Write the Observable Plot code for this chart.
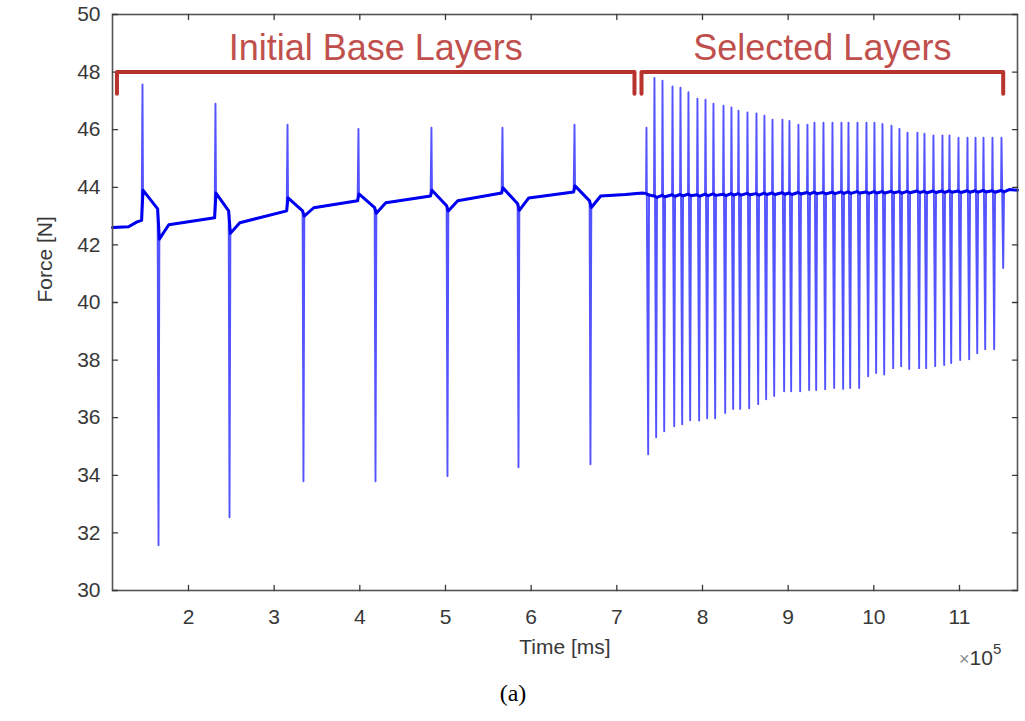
<!DOCTYPE html>
<html><head><meta charset="utf-8">
<script src="https://cdn.jsdelivr.net/npm/d3@7"></script>
<script src="https://cdn.jsdelivr.net/npm/@observablehq/plot@0.6"></script>
<style>body{margin:0;background:#fff;} #chart svg{display:block;}</style>
</head><body><div id="chart"></div>
<script>
// ---- axis ticks (Time in units of 1e5 ms, Force in N)
const xTicks = [2, 3, 4, 5, 6, 7, 8, 9, 10, 11];
const yTicks = [30, 32, 34, 36, 38, 40, 42, 44, 46, 48, 50];
const xDomain = [1.113, 11.677];
const yDomain = [30, 50];

// ---- leading segment before the first layer
const leadT = [1.113, 1.30, 1.40];
const leadF = [42.60, 42.63, 42.80];

// ---- initial base layers (up spike, then down spike)
const initUpT      = [1.463, 2.315, 3.156, 3.984, 4.836, 5.665, 6.506];
const initPeak     = [47.57, 46.90, 46.17, 46.03, 46.07, 46.07, 46.17];
const initDownT    = [1.650, 2.479, 3.342, 4.183, 5.023, 5.852, 6.692];
const initTrough   = [31.57, 32.54, 33.79, 33.79, 33.97, 34.28, 34.38];
const initPreUp    = [42.85, 42.94, 43.18, 43.53, 43.70, 43.80, 43.84];
const initPostUp   = [43.90, 43.80, 43.63, 43.77, 43.90, 43.98, 44.05];
const initPreDown  = [43.25, 43.18, 43.18, 43.29, 43.36, 43.43, 43.53];
const initPostDown = [42.20, 42.40, 43.00, 43.10, 43.18, 43.20, 43.30];
const initRecover  = [42.70, 42.77, 43.29, 43.46, 43.53, 43.63, 43.70];

// ---- gap between initial and selected layers
const gapT = [7.10, 7.30];
const gapF = [43.75, 43.80];

// ---- selected layers
const selT = [7.346, 7.439, 7.533, 7.650, 7.743, 7.836, 7.941, 8.035, 8.128, 8.245,
  8.338, 8.420, 8.525, 8.630, 8.723, 8.817, 8.933, 9.015, 9.120, 9.225,
  9.307, 9.412, 9.517, 9.622, 9.704, 9.809, 9.914, 10.007, 10.101, 10.206,
  10.299, 10.393, 10.509, 10.591, 10.696, 10.801, 10.883, 10.988, 11.093, 11.187,
  11.280, 11.385, 11.490];
const selPeak = [46.07, 47.80, 47.70, 47.50, 47.46, 47.30, 47.08, 47.04, 46.90, 46.83,
  46.77, 46.66, 46.60, 46.56, 46.49, 46.35, 46.35, 46.30, 46.17, 46.17,
  46.24, 46.24, 46.24, 46.24, 46.24, 46.24, 46.24, 46.24, 46.20, 46.14,
  46.03, 45.90, 45.90, 45.86, 45.80, 45.80, 45.80, 45.72, 45.72, 45.72,
  45.72, 45.72, 45.72];
const selTrough = [34.73, 35.32, 35.53, 35.70, 35.77, 35.91, 35.90, 35.98, 35.98, 36.16,
  36.30, 36.30, 36.33, 36.47, 36.64, 36.75, 36.92, 36.92, 36.92, 36.96,
  36.96, 36.99, 37.03, 37.00, 37.03, 37.03, 37.44, 37.55, 37.50, 37.72,
  37.79, 37.69, 37.72, 37.72, 37.79, 37.83, 37.90, 38.00, 38.03, 38.24,
  38.38, 38.38, 41.20];
const selBase = [43.78, 43.70, 43.72, 43.74, 43.75, 43.76, 43.74, 43.76, 43.77, 43.76,
  43.78, 43.78, 43.79, 43.78, 43.80, 43.80, 43.81, 43.80, 43.82, 43.82,
  43.83, 43.82, 43.83, 43.84, 43.84, 43.85, 43.84, 43.85, 43.85, 43.86,
  43.85, 43.86, 43.87, 43.86, 43.87, 43.87, 43.88, 43.87, 43.88, 43.88,
  43.89, 43.88, 43.89];
const tailT = [11.58, 11.677];
const tailF = [43.92, 43.90];

// ---- brackets & labels
const bracketNames = ["Initial Base Layers", "Selected Layers"];
const bracketStart = [1.165, 7.288];
const bracketEnd   = [7.206, 11.510];
const bracketTop = 48.0;
const bracketFoot = 47.25;
const bracketLabelY = 48.82;

// ---- build table
const series = [];
leadT.forEach((t, i) => series.push({t, f: leadF[i], spike: false}));
initUpT.forEach((t, i) => {
  series.push({t: t - 0.01, f: initPreUp[i], spike: false});
  series.push({t: t, f: initPeak[i], spike: true});
  series.push({t: t + 0.006, f: initPostUp[i], spike: false});
  series.push({t: initDownT[i] - 0.01, f: initPreDown[i], spike: false});
  series.push({t: initDownT[i], f: initTrough[i], spike: true});
  series.push({t: initDownT[i] + 0.01, f: initPostDown[i], spike: false});
  series.push({t: initDownT[i] + 0.12, f: initRecover[i], spike: false});
});
gapT.forEach((t, i) => series.push({t, f: gapF[i], spike: false}));
selT.forEach((t, i) => {
  series.push({t: t - 0.005, f: selBase[i], spike: false});
  series.push({t: t, f: selPeak[i], spike: true});
  series.push({t: t + 0.02, f: selTrough[i], spike: true});
  series.push({t: t + 0.03, f: selBase[i] - 0.05, spike: false});
});
tailT.forEach((t, i) => series.push({t, f: tailF[i], spike: false}));

const bracketData = [];
bracketNames.forEach((name, i) => {
  bracketData.push({id: name, t: bracketStart[i], f: bracketFoot});
  bracketData.push({id: name, t: bracketStart[i], f: bracketTop});
  bracketData.push({id: name, t: bracketEnd[i], f: bracketTop});
  bracketData.push({id: name, t: bracketEnd[i], f: bracketFoot});
});
const bracketLabels = bracketNames.map((name, i) => ({name, t: (bracketStart[i] + bracketEnd[i]) / 2}));

const tickShape = {draw(context, l) { context.moveTo(0, 0); context.lineTo(0, -l); }};
const axisColor = "#383838";
const tickOpts = {shape: tickShape, length: 5, anchor: "start", stroke: axisColor, strokeWidth: 1.3};

const plot = Plot.plot({
  width: 1025,
  height: 721,
  marginLeft: 112,
  marginRight: 8,
  marginTop: 14,
  marginBottom: 131,
  style: {fontFamily: "'Liberation Sans', Arial, sans-serif", background: "#fff"},
  x: {domain: xDomain, axis: null},
  y: {domain: yDomain, axis: null},
  marks: [
    Plot.line(series, {x: "t", y: "f", stroke: "#3535ff", strokeWidth: 1.9, strokeOpacity: 0.85}),
    Plot.line(series.filter(d => !d.spike), {x: "t", y: "f", stroke: "#0000f0", strokeWidth: 3}),
    Plot.frame({stroke: "#555", strokeWidth: 1.6}),
    Plot.vector(xTicks, {x: d => d, frameAnchor: "bottom", rotate: 0, ...tickOpts}),
    Plot.vector(xTicks, {x: d => d, frameAnchor: "top", rotate: 180, ...tickOpts}),
    Plot.vector(yTicks, {y: d => d, frameAnchor: "left", rotate: 90, ...tickOpts}),
    Plot.vector(yTicks, {y: d => d, frameAnchor: "right", rotate: -90, ...tickOpts}),
    Plot.axisX(xTicks, {tickSize: 0, tickPadding: 19, fontSize: 21, fill: axisColor, label: null, tickFormat: d => d}),
    Plot.axisY(yTicks, {tickSize: 0, tickPadding: 12, fontSize: 21, fill: axisColor, label: null, tickFormat: d => d}),
    Plot.line(bracketData, {x: "t", y: "f", z: "id", stroke: "#b8332e", strokeWidth: 4, strokeLinejoin: "round"}),
    Plot.text(bracketLabels, {x: "t", y: bracketLabelY, text: "name", fontSize: 36, fill: "#c0504d"}),
    Plot.text(["Force [N]"], {frameAnchor: "left", dx: -67, rotate: -90, fontSize: 21, fill: axisColor}),
    Plot.text(["Time [ms]"], {frameAnchor: "bottom", dy: 63, fontSize: 21, fill: axisColor}),
    Plot.text(["(a)"], {frameAnchor: "bottom", dx: -52, dy: 110, fontSize: 24, fill: "#000", fontFamily: "'Liberation Serif', 'Times New Roman', serif"})
  ]
});

const xs = plot.scale("x");
const exp = d3.select(plot).append("text")
  .attr("x", xs.apply(xDomain[1]) - 58).attr("y", 665)
  .attr("text-anchor", "start")
  .attr("font-size", 21).attr("fill", axisColor)
  .attr("font-family", "'Liberation Sans', Arial, sans-serif");
exp.append("tspan").attr("fill", "#8a8a8a").attr("font-size", 18).text("×");
exp.append("tspan").text("10");
exp.append("tspan").attr("dy", -11).attr("font-size", 15).text("5");

document.getElementById("chart").appendChild(plot);
</script>
</body></html>
